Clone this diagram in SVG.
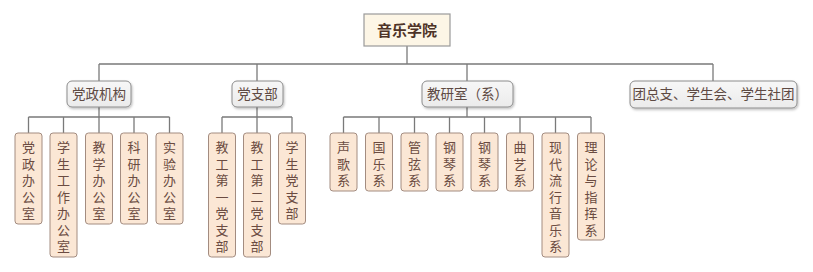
<svg xmlns="http://www.w3.org/2000/svg" width="813" height="272" viewBox="0 0 813 272">
<style>
text{font-family:"Noto Sans CJK SC","Noto Sans",sans-serif;}
.root rect{fill:#fdf6e6;stroke:#9a9a9a;stroke-width:1.2;}
.root text{font-size:15px;font-weight:bold;fill:#4e3327;text-anchor:middle;}
.l1 rect{fill:url(#g1);stroke:#8c8c8c;stroke-width:1;filter:url(#sh);}
.l1 text{font-size:13.5px;fill:#5e4a43;text-anchor:middle;}
.l2 rect{fill:#fbe7d5;stroke:#a38c80;stroke-width:1;}
.l2 text{font-size:13px;fill:#6b4c42;writing-mode:vertical-rl;text-orientation:upright;letter-spacing:3.5px;}
.conn path{fill:none;stroke:#7a7a7a;stroke-width:1.3;}
</style>
<defs>
<linearGradient id="g1" x1="0" y1="0" x2="0" y2="1"><stop offset="0" stop-color="#f7f7f7"/><stop offset="1" stop-color="#ebebeb"/></linearGradient>
<filter id="sh" x="-10%" y="-20%" width="130%" height="160%"><feDropShadow dx="1" dy="1.5" stdDeviation="1" flood-color="#000" flood-opacity="0.25"/></filter>
</defs>
<rect width="813" height="272" fill="#ffffff"/>
<g class="conn">
<path d="M407 46V64M99 64H713M99 64V81M257 64V81M467 64V81M713 64V81"/>
<path d="M99 107V117M28.5 117H169.5M28.5 117V133M63.5 117V133M99 117V133M134 117V133M169.5 117V133"/>
<path d="M257 107V117M222 117H292M222 117V133M257 117V133M292 117V133"/>
<path d="M467 107V117M343.5 117H591M343.5 117V133M379 117V133M414.5 117V133M449.5 117V133M484.5 117V133M520 117V133M555.5 117V133M591 117V133"/>
</g>
<g id="root" class="root"><rect x="364" y="14" width="86" height="32"/><text x="407" y="35.5">音乐学院</text></g>
<g id="n_dzjg" class="l1"><rect x="67" y="81" width="64" height="26" rx="5"/><text x="99" y="98.5">党政机构</text></g>
<g id="n_dzb" class="l1"><rect x="232" y="81" width="51" height="26" rx="5"/><text x="257.5" y="98.5">党支部</text></g>
<g id="n_jys" class="l1"><rect x="422" y="81" width="91" height="26" rx="5"/><text x="467.5" y="98.5">教研室（系）</text></g>
<g id="n_tzz" class="l1"><rect x="630" y="81" width="167" height="27" rx="5"/><text x="713.5" y="99">团总支、学生会、学生社团</text></g>

<g id="n1" class="l2"><rect x="15" y="133" width="27" height="91" rx="3"/><text x="28.5" y="141">党政办公室</text></g>
<g id="n2" class="l2"><rect x="50" y="133" width="27" height="124" rx="3"/><text x="63.5" y="141">学生工作办公室</text></g>
<g id="n3" class="l2"><rect x="85.5" y="133" width="27" height="91" rx="3"/><text x="99" y="141">教学办公室</text></g>
<g id="n4" class="l2"><rect x="120.5" y="133" width="27" height="91" rx="3"/><text x="134" y="141">科研办公室</text></g>
<g id="n5" class="l2"><rect x="156" y="133" width="27" height="91" rx="3"/><text x="169.5" y="141">实验办公室</text></g>

<g id="n6" class="l2"><rect x="208.5" y="133" width="27" height="124" rx="3"/><text x="222" y="141">教工第一党支部</text></g>
<g id="n7" class="l2"><rect x="243.5" y="133" width="27" height="124" rx="3"/><text x="257" y="141">教工第二党支部</text></g>
<g id="n8" class="l2"><rect x="278.5" y="133" width="27" height="91" rx="3"/><text x="292" y="141">学生党支部</text></g>

<g id="n9" class="l2"><rect x="330" y="133" width="27" height="58" rx="3"/><text x="343.5" y="141">声歌系</text></g>
<g id="n10" class="l2"><rect x="365.5" y="133" width="27" height="58" rx="3"/><text x="379" y="141">国乐系</text></g>
<g id="n11" class="l2"><rect x="401" y="133" width="27" height="58" rx="3"/><text x="414.5" y="141">管弦系</text></g>
<g id="n12" class="l2"><rect x="436" y="133" width="27" height="58" rx="3"/><text x="449.5" y="141">钢琴系</text></g>
<g id="n13" class="l2"><rect x="471" y="133" width="27" height="58" rx="3"/><text x="484.5" y="141">钢琴系</text></g>
<g id="n14" class="l2"><rect x="506.5" y="133" width="27" height="58" rx="3"/><text x="520" y="141">曲艺系</text></g>
<g id="n15" class="l2"><rect x="542" y="133" width="27" height="124" rx="3"/><text x="555.5" y="141">现代流行音乐系</text></g>
<g id="n16" class="l2"><rect x="577.5" y="133" width="27" height="107" rx="3"/><text x="591" y="141">理论与指挥系</text></g>
</svg>
